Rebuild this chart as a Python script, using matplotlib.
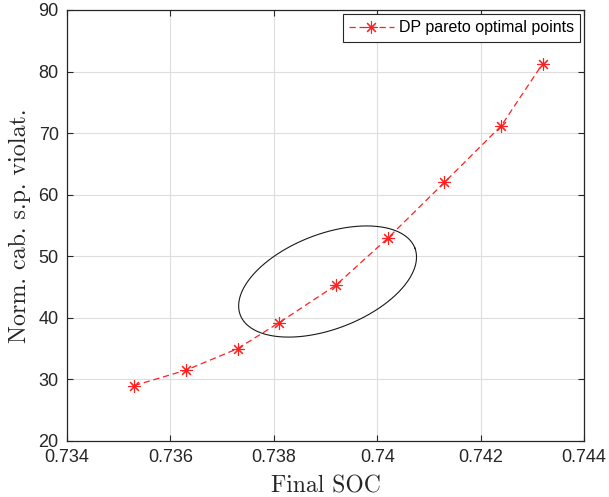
import numpy as np
import matplotlib
matplotlib.use('Agg')
import matplotlib.pyplot as plt

# pareto points
final_soc = [0.7353, 0.7363, 0.7373, 0.7381, 0.7392, 0.7402, 0.7413, 0.7424, 0.7432]
violation = [29.0, 31.5, 35.0, 39.2, 45.3, 52.9, 62.0, 71.2, 81.3]

x_ticks = [0.734, 0.736, 0.738, 0.74, 0.742, 0.744]
x_tick_labels = ['0.734', '0.736', '0.738', '0.74', '0.742', '0.744']
y_ticks = [20, 30, 40, 50, 60, 70, 80, 90]

# highlighted region (centre in data units)
ell_center = (0.73904, 45.9)

plt.rcParams['font.family'] = ['Liberation Sans', 'DejaVu Sans']

fig = plt.figure(figsize=(6.09, 4.97), dpi=100)
ax = fig.add_axes([0.110, 0.1127, 0.849, 0.8672])

ax.set_xlim(0.734, 0.744)
ax.set_ylim(20, 90)
ax.set_xticks(x_ticks)
ax.set_xticklabels(x_tick_labels)
ax.set_yticks(y_ticks)
ax.grid(True, color='#dedede', linewidth=0.8)
ax.set_axisbelow(True)
ax.tick_params(direction='in', top=True, right=True, labelsize=13,
               colors='#262626', length=4, width=0.8)
ax.tick_params(axis='x', pad=6)
ax.tick_params(axis='y', pad=6)
for sp in ax.spines.values():
    sp.set_color('#262626')
    sp.set_linewidth(0.9)

ax.plot(final_soc, violation, color='#ff2020', linestyle=(0, (5, 3)), linewidth=0.9,
        marker=(8, 2, 0), markersize=9, markeredgewidth=0.8,
        label='DP pareto optimal points')

# ellipse drawn in display space so it keeps its shape
fig.canvas.draw()
cx, cy = ax.transData.transform(ell_center)
a, b, th = 93.5, 47.5, np.deg2rad(21)
t = np.linspace(0, 2 * np.pi, 400)
ex = cx + a * np.cos(t) * np.cos(th) - b * np.sin(t) * np.sin(th)
ey = cy + a * np.cos(t) * np.sin(th) + b * np.sin(t) * np.cos(th)
pts = ax.transData.inverted().transform(np.column_stack([ex, ey]))
ax.plot(pts[:, 0], pts[:, 1], color='#1a1a1a', linewidth=0.8)

ax.set_xlabel('Final SOC', family=['cmr10', 'DejaVu Serif'], fontsize=17,
              color='#262626', labelpad=6.5)
ax.set_ylabel('Norm. cab. s.p. violat.', family=['cmr10', 'DejaVu Serif'], fontsize=17.3,
              color='#262626', labelpad=5.5)

leg = ax.legend(loc='upper right', fontsize=11.5, fancybox=False, framealpha=1,
                edgecolor='#262626', handlelength=2.8, borderaxespad=0.25,
                borderpad=0.4, handletextpad=0.3)
leg.get_frame().set_linewidth(0.8)

fig.savefig('out.png', dpi=100)
